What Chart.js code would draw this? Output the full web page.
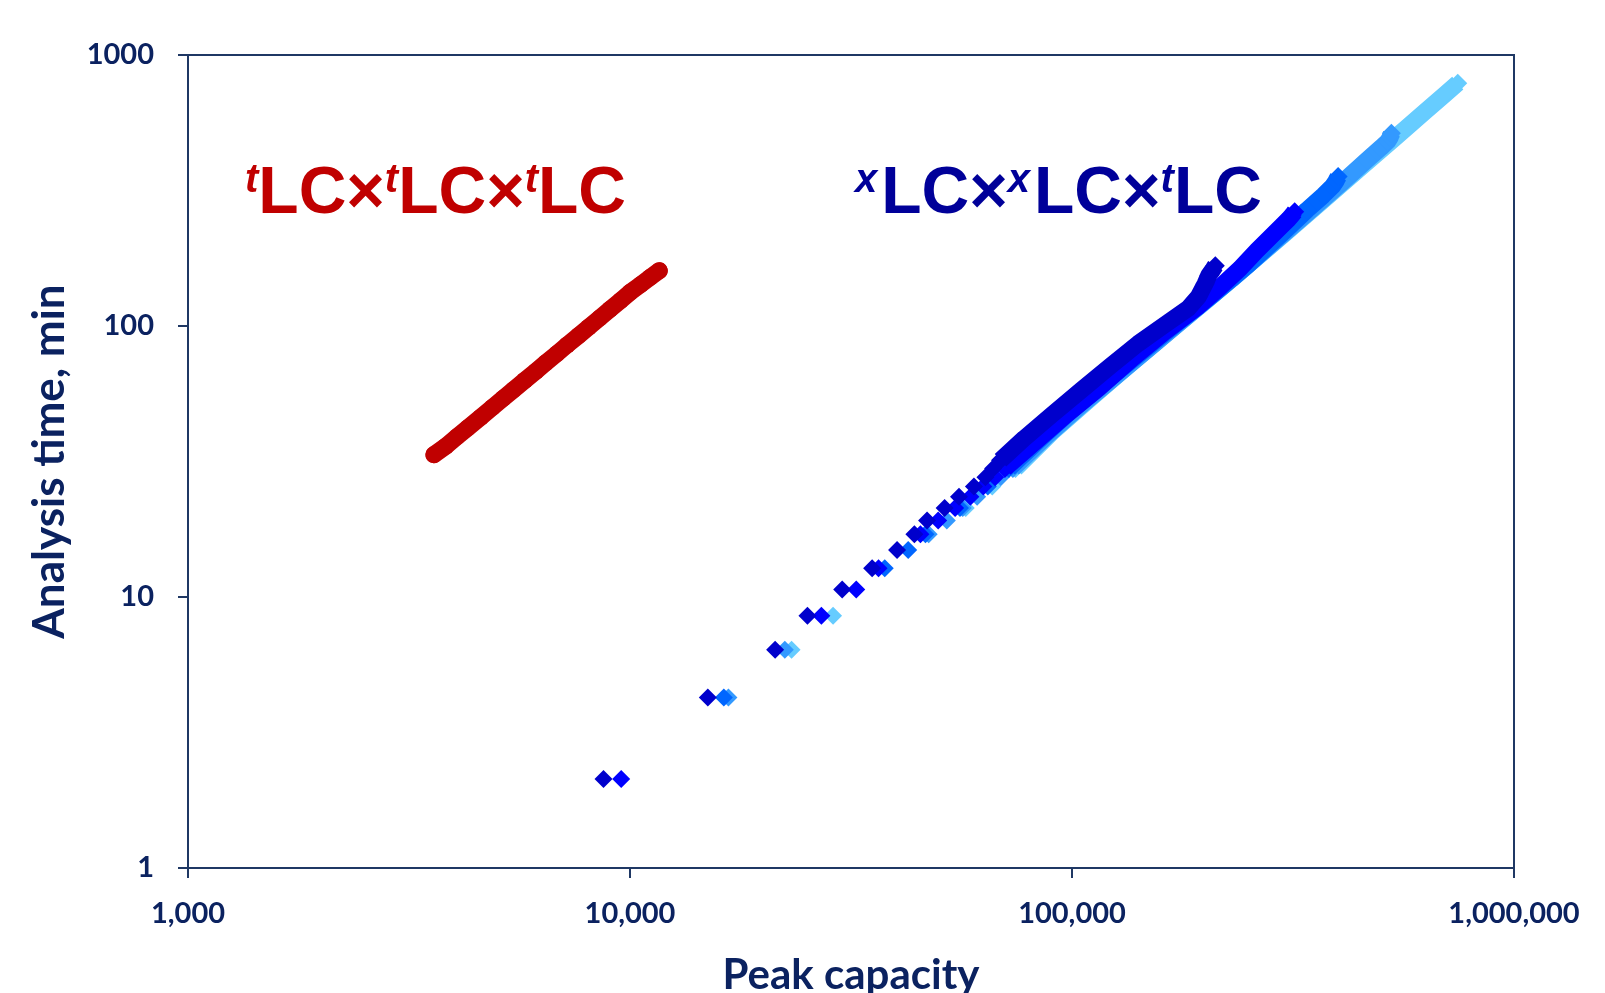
<!DOCTYPE html>
<html lang="en">
<head>
<meta charset="UTF-8">
<title>Analysis time vs peak capacity</title>
<script src="https://cdn.jsdelivr.net/npm/chart.js@4.4.1/dist/chart.umd.min.js"></script>
<style>
    html, body { margin: 0; padding: 0; background: #fff; }
    #wrap { position: relative; width: 1605px; height: 993px; overflow: hidden; }
    .label {
        position: absolute;
        top: 157px;
        font-family: 'Liberation Sans', Arial, sans-serif;
        font-weight: bold;
        font-size: 66px;
        line-height: 1;
        white-space: nowrap;
    }
    .label i { font-size: 40px; vertical-align: 21px; }
    .label i.wide { margin-right: 4px; }
    #lab1 { left: 245px; color: #C00000; }
    #lab2 { left: 855px; color: #000099; }
</style>
</head>
<body>
<div id="wrap">
    <canvas id="myChart" width="1605" height="993"></canvas>
    <div class="label" id="lab1"><i>t</i>LC&times;<i>t</i>LC&times;<i>t</i>LC</div>
    <div class="label" id="lab2"><i class="wide">x</i>LC&times;<i class="wide">x</i>LC&times;<i>t</i>LC</div>
</div>

<script>
// axis ticks
const xTickValues = [1000, 10000, 100000, 1000000];
const xTickLabels = ['1,000', '10,000', '100,000', '1,000,000'];
const yTickValues = [1, 10, 100, 1000];
const yTickLabels = ['1', '10', '100', '1000'];

// tLCxtLCxtLC (red)
const redX = [3600, 3830, 4060, 4290, 4590, 4880, 5160, 5440, 5780, 6120, 6440, 6830, 7200, 7640, 8060, 8540, 9000, 9510, 10000, 10560, 11100, 11650];
const redY = [33.5, 36, 39, 42, 46, 50, 54, 58, 63, 68, 73, 79, 85, 92, 99, 107, 115, 124, 133, 142, 151, 160];

// xLCxxLCxtLC, five conditions (dark -> light)
const s1SparseX = [8710, 15000, 21300, 25200, 30200, 35300, 40200, 44000, 47000, 51500, 55500, 60000, 63700, 66300];
const s1SparseY = [2.13, 4.26, 6.39, 8.52, 10.65, 12.78, 14.91, 17.04, 19.17, 21.3, 23.43, 25.56, 27.69, 29.82];
const s1LineX = [68900, 78000, 90000, 105000, 122000, 141000, 162000, 183000, 193000, 200000, 204000, 208000, 211000];
const s1LineY = [31.95, 38.5, 47, 58, 71, 86, 101, 116, 128, 143, 154, 161, 167];

const s2SparseX = [9550, 27100, 32500, 36500, 45400, 49800, 54400, 58900, 63000, 67000];
const s2SparseY = [2.13, 8.52, 10.65, 12.78, 17.04, 19.17, 21.3, 23.43, 25.56, 27.69];
const s2LineX = [70500, 82000, 97000, 115000, 137000, 162000, 193000, 215000, 240000, 262000, 282000, 298000, 309000, 315000, 319000];
const s2LineY = [29.82, 37, 47, 59, 76, 95, 118, 138, 163, 190, 214, 234, 248, 257, 264];

const s3SparseX = [16300, 37700, 42600, 46600, 55800, 64500];
const s3SparseY = [4.26, 12.78, 14.91, 17.04, 21.3, 25.56];
const s3LineX = [72000, 85000, 100000, 120000, 145000, 175000, 210000, 250000, 300000, 340000, 370000, 388000, 396000, 400000];
const s3LineY = [29.82, 38.5, 49, 63, 81, 104, 132, 168, 221, 268, 303, 327, 343, 356];

const s4SparseX = [16700, 22400, 47400, 52100, 56600, 61000, 69000];
const s4SparseY = [4.26, 6.39, 17.04, 19.17, 21.3, 23.43, 27.69];
const s4LineX = [73500, 88000, 105000, 128000, 155000, 190000, 230000, 280000, 340000, 410000, 465000, 500000, 518000, 525000, 528000];
const s4LineY = [29.82, 39.5, 51, 67, 87, 115, 149, 197, 260, 340, 410, 455, 480, 498, 514];

const s5SparseX = [23200, 28800, 57500, 66000];
const s5SparseY = [6.39, 8.52, 21.3, 25.56];
const s5LineX = [74500, 90000, 110000, 135000, 165000, 200000, 245000, 300000, 370000, 450000, 540000, 630000, 700000, 746000];
const s5LineY = [29.82, 40.5, 54, 72, 95, 123, 163, 216, 291, 384, 497, 619, 719, 787];

const navy = '#1F3864';
const labelColor = '#0B2260';

function pts(xs, ys) {
    return xs.map((x, i) => ({ x: x, y: ys[i] }));
}

function sparse(xs, ys, color) {
    return {
        data: pts(xs, ys),
        showLine: false,
        pointStyle: 'rectRot',
        pointRadius: 9,
        pointBorderWidth: 0,
        pointBackgroundColor: color,
        backgroundColor: color,
    };
}

function band(xs, ys, color, style, width) {
    return {
        data: pts(xs, ys),
        showLine: true,
        borderColor: color,
        borderWidth: width,
        borderJoinStyle: 'round',
        borderCapStyle: style === 'circle' ? 'round' : 'butt',
        pointStyle: style,
        pointRadius: style === 'circle' ? 8.5 : 9.5,
        pointBorderWidth: 0,
        pointBackgroundColor: color,
        backgroundColor: color,
    };
}

// dataset 0 is drawn on top
const datasets = [
    band(redX, redY, '#C00000', 'circle', 17),
    band(s1LineX, s1LineY, '#0000CC', 'rectRot', 17),
    sparse(s1SparseX, s1SparseY, '#0000CC'),
    band(s2LineX, s2LineY, '#0000FF', 'rectRot', 17),
    sparse(s2SparseX, s2SparseY, '#0000FF'),
    band(s3LineX, s3LineY, '#0066FF', 'rectRot', 17),
    sparse(s3SparseX, s3SparseY, '#0066FF'),
    band(s4LineX, s4LineY, '#3399FF', 'rectRot', 17),
    sparse(s4SparseX, s4SparseY, '#3399FF'),
    band(s5LineX, s5LineY, '#66CCFF', 'rectRot', 17),
    sparse(s5SparseX, s5SparseY, '#66CCFF'),
];

// frame round the plot area
const frame = {
    id: 'frame',
    beforeDatasetsDraw(chart) {
        const a = chart.chartArea;
        const ctx = chart.ctx;
        ctx.save();
        ctx.strokeStyle = navy;
        ctx.lineWidth = 2;
        ctx.strokeRect(a.left, a.top, a.right - a.left, a.bottom - a.top);
        ctx.restore();
    }
};

const tickFont = { family: 'Lato', weight: 'bold', size: 29 };

new Chart(document.getElementById('myChart'), {
    type: 'scatter',
    data: { datasets },
    plugins: [frame],
    options: {
        responsive: false,
        animation: false,
        events: [],
        layout: { padding: { top: 55, right: 91, left: 0, bottom: 0 } },
        plugins: { legend: { display: false }, tooltip: { enabled: false } },
        scales: {
            x: {
                type: 'logarithmic',
                min: 1000,
                max: 1000000,
                afterBuildTicks: (scale) => { scale.ticks = xTickValues.map(v => ({ value: v })); },
                afterFit: (scale) => { scale.height = 125; },
                ticks: {
                    autoSkip: false,
                    maxRotation: 0,
                    padding: 18,
                    color: labelColor,
                    font: tickFont,
                    callback: (v, i) => xTickLabels[i],
                },
                grid: { drawOnChartArea: false, drawTicks: true, tickLength: 10, color: navy, lineWidth: 2 },
                border: { display: true, color: navy, width: 2 },
                title: {
                    display: true,
                    text: 'Peak capacity',
                    color: labelColor,
                    font: { family: 'Lato', weight: 'bold', size: 42, lineHeight: 0.8 },
                    padding: { top: 0, bottom: 1 },
                },
            },
            y: {
                type: 'logarithmic',
                min: 1,
                max: 1000,
                afterBuildTicks: (scale) => { scale.ticks = yTickValues.map(v => ({ value: v })); },
                afterFit: (scale) => { scale.width = 188; },
                ticks: {
                    autoSkip: false,
                    padding: 24,
                    color: labelColor,
                    font: tickFont,
                    callback: (v, i) => yTickLabels[i],
                },
                grid: { drawOnChartArea: false, drawTicks: true, tickLength: 10, color: navy, lineWidth: 2 },
                border: { display: true, color: navy, width: 2 },
                title: {
                    display: true,
                    text: 'Analysis time, min',
                    color: labelColor,
                    font: { family: 'Lato', weight: 'bold', size: 44, lineHeight: 0.8 },
                    padding: { top: 32, bottom: 0 },
                },
            },
        },
    },
});
</script>
</body>
</html>
